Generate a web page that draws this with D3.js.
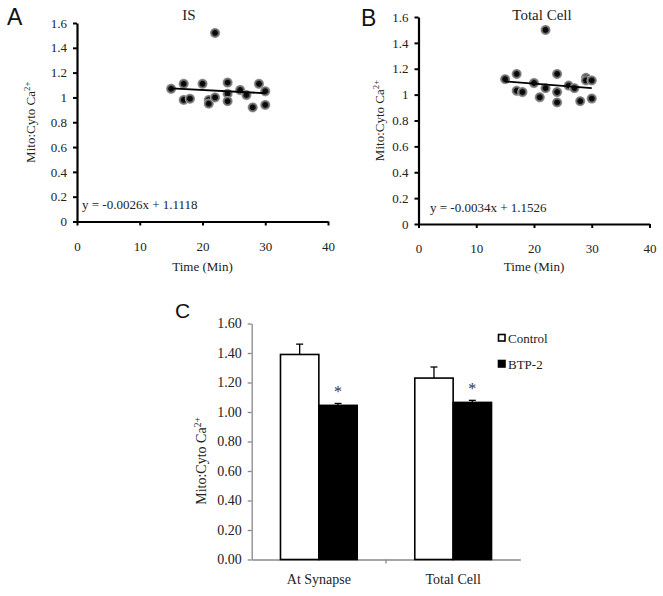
<!DOCTYPE html>
<html><head><meta charset="utf-8">
<script src="https://cdn.jsdelivr.net/npm/d3@7"></script>
<style>body{margin:0;background:#fff}svg{display:block}</style>
</head><body>
<svg id="chart" width="663" height="596"></svg>
<script>
// ---- Data ----
const isTime  = [15,17,17,18,20,21,21,22,22,24,24,24,26,27,28,29,30,30];
const isRatio = [1.07,1.11,0.98,0.99,1.11,0.98,0.95,1.00,1.52,1.12,1.03,0.97,1.06,1.02,0.92,1.11,1.05,0.94];
const totalTime  = [15,17,17,18,20,21,22,22,24,24,24,26,27,28,29,29,30,30];
const totalRatio = [1.12,1.16,1.03,1.02,1.09,0.98,1.05,1.50,1.16,1.02,0.94,1.07,1.05,0.95,1.13,1.11,1.11,0.97];
const isFit = [-0.0026, 1.1118];      // slope, intercept
const totalFit = [-0.0034, 1.1526];
const fitRange = [15, 30];
const scatterXTicks = [0,10,20,30,40];
const scatterYTicks = [0,0.2,0.4,0.6,0.8,1,1.2,1.4,1.6];

const barCategories = ["At Synapse","Total Cell"];
const barSeries = ["Control","BTP-2"];
const controlMean = [1.39, 1.23];
const controlErr  = [0.07, 0.075];
const btpMean = [1.045, 1.065];
const btpErr  = [0.013, 0.014];
const barYTicks = [0,0.2,0.4,0.6,0.8,1.0,1.2,1.4,1.6];

const svg = d3.select("#chart");
const serif = "Liberation Serif";
const sans = "Liberation Sans";

// gradient for dots
const defs = svg.append("defs");
const grad = defs.append("radialGradient").attr("id","dotg");
grad.append("stop").attr("offset","0%").attr("stop-color","#000");
grad.append("stop").attr("offset","48%").attr("stop-color","#111");
grad.append("stop").attr("offset","60%").attr("stop-color","#555");
grad.append("stop").attr("offset","85%").attr("stop-color","#8a8a8a");
grad.append("stop").attr("offset","100%").attr("stop-color","#bbb");

function yLabel(g, x, y, size){
  const t = g.append("text").attr("transform",`translate(${x},${y}) rotate(-90)`)
    .attr("text-anchor","middle").style("font-family",serif).attr("font-size",size).attr("fill","#222");
  t.append("tspan").text("Mito:Cyto Ca");
  t.append("tspan").text("2+").attr("font-size",size*0.68).attr("dy",-size*0.38);
}

function scatter(opts){
  const {xs, ys, fit, x0, x1, y0, y1, title, titleX, letter, letterX, letterY, ylabX, eqX, eqY, eqText, xTitleY} = opts;
  const g = svg.append("g");
  const x = d3.scaleLinear().domain([0,40]).range([x0,x1]);
  const y = d3.scaleLinear().domain([0,1.6]).range([y0,y1]);
  const xa = g.append("g").attr("transform",`translate(0,${y0})`)
    .call(d3.axisBottom(x).tickValues(scatterXTicks).tickSize(4).tickSizeOuter(0).tickPadding(16));
  const ya = g.append("g").attr("transform",`translate(${x0},0)`)
    .call(d3.axisLeft(y).tickValues(scatterYTicks).tickSize(4).tickSizeOuter(0).tickPadding(6)
      .tickFormat(d => String(+d.toFixed(1))));
  [xa, ya].forEach(a => {
    a.attr("font-family", null);
    a.select(".domain").attr("stroke","#000").attr("stroke-width",2.2);
    a.selectAll(".tick line").attr("stroke","#000").attr("stroke-width",2);
    a.selectAll(".tick text").style("font-family",serif).attr("font-size",13).attr("fill","#222");
  });
  // dots
  g.selectAll("circle.dot").data(xs.map((d,i)=>[d,ys[i]])).join("circle")
    .attr("cx",d=>x(d[0])).attr("cy",d=>y(d[1])).attr("r",5.2).attr("fill","url(#dotg)");
  // trend
  g.append("line").attr("x1",x(fitRange[0])).attr("x2",x(fitRange[1]))
    .attr("y1",y(fit[0]*fitRange[0]+fit[1])).attr("y2",y(fit[0]*fitRange[1]+fit[1]))
    .attr("stroke","#000").attr("stroke-width",1.8);
  g.append("text").attr("x",titleX).attr("y",20).attr("text-anchor","middle")
    .style("font-family",serif).attr("font-size",15).attr("fill","#222").text(title);
  g.append("text").attr("x",letterX).attr("y",letterY).style("font-family",sans)
    .attr("font-size",23).attr("fill","#111").text(letter);
  yLabel(g, ylabX, (y0+y1)/2, 13);
  g.append("text").attr("x",eqX).attr("y",eqY).style("font-family",serif).attr("font-size",13)
    .attr("fill","#222").text(eqText);
  g.append("text").attr("x",(x0+x1)/2).attr("y",xTitleY).attr("text-anchor","middle")
    .style("font-family",serif).attr("font-size",13).attr("fill","#222").text("Time (Min)");
}

scatter({xs:isTime, ys:isRatio, fit:isFit, x0:77, x1:328, y0:221.5, y1:23,
  title:"IS", titleX:189, letter:"A", letterX:7, letterY:25, ylabX:35,
  eqX:82, eqY:209, eqText:"y = -0.0026x + 1.1118", xTitleY:271});
scatter({xs:totalTime, ys:totalRatio, fit:totalFit, x0:418.5, x1:649.5, y0:224, y1:17,
  title:"Total Cell", titleX:542, letter:"B", letterX:361, letterY:26, ylabX:384,
  eqX:430, eqY:212, eqText:"y = -0.0034x + 1.1526", xTitleY:271});

// ---- Panel C ----
const gc = svg.append("g");
const cx0 = 251.7, cx1 = 520.3, cy0 = 559.5, cy1 = 323.5;
const xb = d3.scaleBand().domain(barCategories).range([cx0,cx1]).paddingInner(0).paddingOuter(0);
const xs = d3.scaleBand().domain(barSeries).range([0,xb.bandwidth()]).paddingInner(0).paddingOuter(0.75);
const yb = d3.scaleLinear().domain([0,1.6]).range([cy0,cy1]);

const yax = gc.append("g").attr("transform",`translate(${cx0},0)`)
  .call(d3.axisLeft(yb).tickValues(barYTicks).tickSize(4).tickSizeOuter(0).tickPadding(6).tickFormat(d3.format(".2f")));
const xax = gc.append("g").attr("transform",`translate(0,${cy0})`)
  .call(d3.axisBottom(xb).tickSize(0).tickSizeOuter(0).tickPadding(15));
[yax, xax].forEach(a=>{
  a.attr("font-family", null);
  a.select(".domain").attr("stroke","#888").attr("stroke-width",1.3);
  a.selectAll(".tick line").attr("stroke","#888").attr("stroke-width",1.3);
  a.selectAll(".tick text").style("font-family",serif).attr("font-size",14).attr("fill","#222");
});
// category boundary ticks
gc.selectAll("line.bt").data([xb.range()[0] + xb.step()]).join("line")
  .attr("x1",d=>d).attr("x2",d=>d).attr("y1",cy0).attr("y2",cy0+4).attr("stroke","#888").attr("stroke-width",1.3);

const barData = [];
barCategories.forEach((c,i)=>{
  barData.push({c, s:"Control", v:controlMean[i], e:controlErr[i]});
  barData.push({c, s:"BTP-2", v:btpMean[i], e:btpErr[i]});
});
const bx = d => xb(d.c) + xs(d.s);
gc.selectAll("line.eb").data(barData).join("line")
  .attr("x1",d=>bx(d)+xs.bandwidth()/2).attr("x2",d=>bx(d)+xs.bandwidth()/2)
  .attr("y1",d=>yb(d.v)).attr("y2",d=>yb(d.v+d.e)).attr("stroke","#000").attr("stroke-width",1.3);
gc.selectAll("line.ec").data(barData).join("line")
  .attr("x1",d=>bx(d)+xs.bandwidth()/2-3.5).attr("x2",d=>bx(d)+xs.bandwidth()/2+3.5)
  .attr("y1",d=>yb(d.v+d.e)).attr("y2",d=>yb(d.v+d.e)).attr("stroke","#000").attr("stroke-width",1.3);
gc.selectAll("rect.bar").data(barData).join("rect")
  .attr("x",d=>bx(d)).attr("width",xs.bandwidth())
  .attr("y",d=>yb(d.v)).attr("height",d=>cy0-yb(d.v))
  .attr("fill",d=>d.s==="Control"?"#fff":"#000").attr("stroke","#000").attr("stroke-width",1.6);
gc.selectAll("text.ast").data(barData.filter(d=>d.s==="BTP-2")).join("text")
  .attr("x",d=>bx(d)+xs.bandwidth()/2).attr("y",d=>yb(d.v+d.e)-6).attr("text-anchor","middle")
  .style("font-family",serif).attr("font-size",16).attr("fill","#333").text("*");

gc.append("text").attr("x",175).attr("y",318).style("font-family",sans).attr("font-size",21).attr("fill","#111").text("C");
yLabel(gc, 206, 461, 14);

// legend
const leg = gc.selectAll("g.leg").data(barSeries).join("g")
  .attr("transform",(d,i)=>`translate(498,${334 + i*26})`);
leg.append("rect").attr("x",0.5).attr("y",0.5).attr("width",6.5).attr("height",6.5)
  .attr("fill",d=>d==="Control"?"#fff":"#000").attr("stroke","#000").attr("stroke-width",1.6);
leg.append("text").attr("x",10).attr("y",8.5).style("font-family",serif).attr("font-size",13)
  .attr("fill","#222").text(d=>d);
</script>
</body></html>
